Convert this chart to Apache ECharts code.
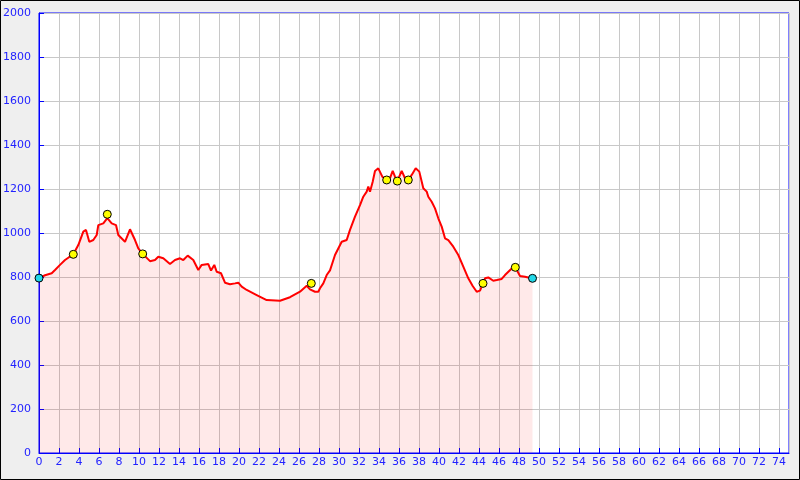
<!DOCTYPE html>
<html><head><meta charset="utf-8">
<script src="https://cdn.jsdelivr.net/npm/echarts@6/dist/echarts.min.js"></script>
<style>html,body{margin:0;padding:0;background:#efefef}#c{width:800px;height:480px}</style>
</head><body><div id="c"></div>
<script>
const dist = [0,0.6,1.27,1.6,2.1,2.6,3.0,3.43,3.93,4.43,4.7,5.03,5.43,5.77,5.93,6.43,6.83,7.27,7.7,7.93,8.6,9.1,9.6,9.93,10.37,11.1,11.6,11.93,12.43,13.1,13.6,14.1,14.43,14.87,15.43,15.93,16.27,16.93,17.2,17.53,17.77,18.2,18.6,19.1,19.6,19.93,20.27,20.77,21.77,22.77,24.1,25.1,26.1,26.77,27.1,27.6,27.93,28.1,28.43,28.77,29.1,29.6,30.27,30.77,31.1,31.6,32.1,32.43,32.77,32.93,33.1,33.37,33.6,33.93,34.33,34.77,35.1,35.37,35.6,35.83,36.27,36.6,36.93,37.27,37.67,38.03,38.43,38.77,38.93,39.27,39.6,39.93,40.27,40.6,40.93,41.43,41.93,42.43,42.93,43.37,43.77,44.1,44.4,44.6,44.93,45.43,45.77,46.27,46.6,47.27,47.63,47.83,48.1,48.6,48.93,49.35];
const elev = [795,808,817,832,855,877,890,903,945,1006,1014,960,968,991,1036,1044,1068,1044,1036,991,960,1017,968,930,905,872,877,892,885,859,877,885,877,897,877,832,855,859,829,855,824,817,774,767,771,774,756,741,718,695,692,708,733,760,744,733,733,749,771,809,830,900,960,968,1014,1074,1127,1165,1188,1211,1188,1233,1282,1294,1256,1241,1249,1282,1256,1236,1282,1249,1241,1264,1294,1279,1203,1188,1165,1142,1112,1067,1029,976,968,938,900,847,794,759,733,738,771,794,798,783,786,791,809,839,844,839,805,801,798,794];
const wpX = [3.43,6.83,10.37,27.23,34.77,35.83,36.93,44.4,47.63];
const wpY = [903,1085,905,771,1241,1236,1241,771,844];
const endX = [0,49.35];
const endY = [795,794];
const xTicks = {min:0,max:75,interval:2};
const yTicks = {min:0,max:2000,interval:200};

const blue = '#0000ff', txt = '#2222ff', gridC = '#c8c8c8';
const chart = echarts.init(document.getElementById('c'));
const zip = (a,b)=>a.map((v,i)=>[v,b[i]]);
chart.setOption({
  backgroundColor:'#efefef',
  animation:false,
  grid:{left:39,top:13,right:11,bottom:27,containLabel:false,outerBoundsMode:'none',show:true,backgroundColor:'#ffffff',borderColor:blue,borderWidth:1},
  graphic:[{type:'rect',shape:{x:0.5,y:0.5,width:799,height:479},style:{fill:'none',stroke:'#000',lineWidth:1},silent:true,z:100}],
  xAxis:{type:'value',min:xTicks.min,max:xTicks.max,interval:xTicks.interval,
    axisLine:{lineStyle:{color:blue,width:1}},
    axisTick:{inside:true,length:5,lineStyle:{color:blue}},
    axisLabel:{color:txt,fontFamily:'DejaVu Sans',fontSize:11,margin:4,showMaxLabel:false,formatter:v=>String(v)},
    splitLine:{show:true,lineStyle:{color:gridC,width:1}}},
  yAxis:{type:'value',min:yTicks.min,max:yTicks.max,interval:yTicks.interval,
    axisLine:{show:true,lineStyle:{color:blue,width:1}},
    axisTick:{show:true,inside:true,length:5,lineStyle:{color:blue}},
    axisLabel:{color:txt,fontFamily:'DejaVu Sans',fontSize:11,margin:8,formatter:v=>String(v)},
    splitLine:{show:true,lineStyle:{color:gridC,width:1}}},
  series:[
    {type:'line',data:zip(dist,elev),symbol:'none',smooth:false,
     lineStyle:{color:'#ff0000',width:2},areaStyle:{color:'rgba(255,0,0,0.12)'},z:2},
    {type:'scatter',data:zip(wpX,wpY),symbol:'circle',symbolSize:8,
     itemStyle:{color:'#ffff00',borderColor:'#000',borderWidth:1,opacity:1},z:3},
    {type:'scatter',data:zip(endX,endY),symbol:'circle',symbolSize:8,
     itemStyle:{color:'#22d8e8',borderColor:'#000',borderWidth:1,opacity:1},z:3}
  ]
});
</script></body></html>
